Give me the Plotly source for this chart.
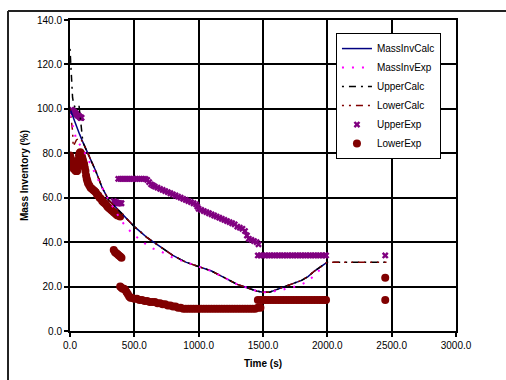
import plotly.graph_objects as go

# ---------------- data ----------------
calc_t = [0, 25, 50, 75, 100, 150, 200, 250, 300, 350, 400, 450, 500, 550, 600, 650, 700, 750, 800,
          850, 900, 950, 1000, 1050, 1100, 1150, 1200, 1250, 1300, 1350, 1400, 1450, 1500, 1550,
          1600, 1650, 1700, 1750, 1800, 1850, 1900, 1950, 2000]
calc_y = [100, 96, 92, 88.5, 85, 78.5, 72, 64.5, 59, 56, 53, 50, 47, 44.5, 42, 40, 38, 36, 34,
          32.5, 31, 30, 29, 28, 27, 25.5, 24, 22.5, 21, 20, 19, 18, 17.5, 17.5,
          18.5, 19.5, 20.7, 21.7, 22.8, 24.5, 27, 29, 31]

upper_t = [0, 5, 10, 15, 20, 30, 40, 55, 70, 80, 90, 100, 150, 200, 250, 300, 350, 400, 450, 500, 550,
           600, 650, 700, 750, 800, 850, 900, 950, 1000, 1050, 1100, 1150, 1200, 1250, 1300, 1350,
           1400, 1450, 1500, 1550, 1600, 1650, 1700, 1750, 1800, 1850, 1900, 1950, 2000, 2100, 2200,
           2300, 2400, 2460]
upper_y = [127, 122, 116, 110, 105, 102, 100.5, 101, 101.5, 96, 89, 85, 78.5, 72, 64.5, 59, 56, 53, 50, 47, 44.5,
           42, 40, 38, 36, 34, 32.5, 31, 30, 29, 28, 27, 25.5, 24, 22.5, 21, 20,
           19, 18, 17.5, 17.5, 18.5, 19.5, 20.7, 21.7, 22.8, 24.5, 27, 29, 31, 31, 31,
           31, 31, 31]

lower_t = [0, 10, 20, 25, 50, 75, 100, 150, 200, 250, 300, 350, 400, 450, 500, 550,
           600, 650, 700, 750, 800, 850, 900, 950, 1000, 1050, 1100, 1150, 1200, 1250, 1300, 1350,
           1400, 1450, 1500, 1550, 1600, 1650, 1700, 1750, 1800, 1850, 1900, 1950, 2000, 2100, 2200,
           2300, 2400, 2460]
lower_y = [100, 96, 90, 83, 86, 87, 85, 78.5, 72, 64.5, 59, 56, 53, 50, 47, 44.5,
           42, 40, 38, 36, 34, 32.5, 31, 30, 29, 28, 27, 25.5, 24, 22.5, 21, 20,
           19, 18, 17.5, 17.5, 18.5, 19.5, 20.7, 21.7, 22.8, 24.5, 27, 29, 31, 31, 31,
           31, 31, 31]

exp_t = [0, 50, 100, 150, 200, 250, 300, 350, 400, 450, 500, 550, 600, 650, 700, 750, 800, 850, 900,
         950, 1000, 1050, 1100, 1150, 1200, 1250, 1300, 1350, 1400, 1450, 1500, 1550, 1600, 1650,
         1700, 1750, 1800, 1850, 1900, 1950, 1980]
exp_y = [97, 86, 82, 76, 70, 64.5, 59, 54, 49.5, 46, 43, 41, 38.5, 37, 36, 34.5, 33, 32, 31,
         30, 29, 28, 27, 25.5, 24, 22.5, 21, 20, 19, 18, 17.5, 17.5, 18, 18.5,
         19.5, 20, 21, 22.5, 25, 28, 30]

uexp_t = [10, 15, 20, 25, 30, 35, 40, 45, 50, 55, 60, 65, 70, 75, 80, 85, 90,
          340, 350, 360, 370, 380, 390, 400,
          375, 390, 405, 420, 435, 450, 465, 480, 495, 510, 525, 540, 555, 570, 585,
          600, 615, 630, 645, 660, 680, 700, 720, 740, 760, 780, 800, 820, 840, 860, 880, 900,
          920, 940, 960, 980, 990, 1000, 1020, 1040, 1060, 1080, 1100, 1120, 1140, 1160, 1180,
          1200, 1220, 1240, 1260, 1280, 1300, 1320, 1340, 1360, 1375, 1390, 1410, 1430, 1450, 1465,
          1460, 1480, 1500, 1520, 1540, 1560, 1580, 1600, 1620, 1640, 1660, 1680, 1700, 1720, 1740,
          1760, 1780, 1800, 1820, 1840, 1860, 1880, 1900, 1920, 1940, 1960, 1980, 1990,
          2450]
uexp_y = [99.5, 99.5, 99, 99, 98.5, 98.5, 98, 98, 97.5, 97.5, 97, 97, 96.5, 96.5, 96, 96, 96,
          58.5, 58, 58, 57.5, 57.5, 57.5, 57.5,
          68.5, 68.5, 68.5, 68.5, 68.5, 68.5, 68.5, 68.5, 68.5, 68.5, 68.5, 68.5, 68.5, 68.5, 68.5,
          68, 67, 66, 65.5, 65, 64.5, 64, 63.5, 63, 62.5, 62, 61.5, 61, 60.5, 60, 59.5, 59,
          58.5, 58, 57.5, 57, 56, 55, 54.5, 54, 53.5, 53, 52.5, 52, 51.5, 51, 50.5,
          50, 49.5, 49, 48.5, 48, 47, 46.5, 46, 45, 43, 41.5, 41, 40.5, 40, 39,
          34, 34, 34, 34, 34, 34, 34, 34, 34, 34, 34, 34, 34, 34, 34,
          34, 34, 34, 34, 34, 34, 34, 34, 34, 34, 34, 34, 34,
          34]

lexp_t = [0, 5, 10, 15, 20, 25, 30, 35, 40, 45, 50, 55,
          60, 65, 70, 75, 80, 85, 90, 95, 100, 105, 110, 115, 120, 125, 130, 135, 140, 150, 160,
          170, 180, 190, 200, 210, 220, 230, 240, 250, 260, 270, 280, 290, 300, 310, 320, 330,
          340, 350, 360, 370, 380, 390,
          340, 350, 360, 370, 380, 390, 400,
          390, 400, 410, 420, 430, 440, 450, 460, 470, 480, 500, 520, 540, 560, 580, 600, 620,
          640, 660, 680, 700, 720, 740, 760, 780, 800, 820, 840, 860, 880,
          900, 920, 940, 960, 980, 1000, 1020, 1040, 1060, 1080, 1100, 1120, 1140, 1160, 1180,
          1200, 1220, 1240, 1260, 1280, 1300, 1320, 1340, 1360, 1380, 1400, 1420, 1440, 1460, 1480,
          1460, 1480, 1500, 1520, 1540, 1560, 1580, 1600, 1620, 1640, 1660, 1680, 1700, 1720,
          1740, 1760, 1780, 1800, 1820, 1840, 1860, 1880, 1900, 1920, 1940, 1960, 1980, 1990,
          2450, 2450]
lexp_y = [79, 78, 77, 76, 75, 74, 73, 73, 72.5, 72, 72, 72,
          74, 77, 79, 80, 80.5, 80, 79, 78, 77, 76, 75, 73.5, 72, 70, 68.5, 67.5, 66.5, 65.5, 64.5,
          64, 63.5, 63, 62.5, 61.5, 61, 60, 59.5, 58.5, 58, 57.5, 57, 56, 55.5, 55, 54.5, 54,
          53.5, 53, 52.5, 52, 52, 51.5,
          36.5, 35.5, 35, 34.5, 34, 33.5, 33,
          20, 19.5, 19, 19, 18.5, 17.5, 16.5, 15.5, 15, 15, 14.5, 14.5, 14, 14, 13.5, 13.5, 13,
          13, 13, 12.5, 12.5, 12, 12, 11.5, 11.5, 11, 11, 10.5, 10.5, 10,
          10, 10, 10, 10, 10, 10, 10, 10, 10, 10, 10, 10, 10, 10, 10,
          10, 10, 10, 10, 10, 10, 10, 10, 10, 10, 10, 10, 10, 10.5, 10.5,
          14, 14, 14, 14, 14, 14, 14, 14, 14, 14, 14, 14, 14, 14,
          14, 14, 14, 14, 14, 14, 14, 14, 14, 14, 14, 14, 14, 14,
          14, 24]

x_ticks = [0, 500, 1000, 1500, 2000, 2500, 3000]
y_ticks = [0, 20, 40, 60, 80, 100, 120, 140]

# ---------------- figure ----------------
FONT = "Liberation Sans, Arial, sans-serif"
fig = go.Figure()

fig.add_trace(go.Scatter(x=uexp_t, y=uexp_y, name="UpperExp", mode="markers", legendrank=5,
                         marker=dict(symbol="x", size=6, color="#800080", line=dict(width=0))))
fig.add_trace(go.Scatter(x=lexp_t, y=lexp_y, name="LowerExp", mode="markers", legendrank=6,
                         marker=dict(symbol="circle", size=8, color="#800000", line=dict(width=0))))
fig.add_trace(go.Scatter(x=calc_t, y=calc_y, name="MassInvCalc", mode="lines", legendrank=1,
                         line=dict(color="#000080", width=1.5)))
fig.add_trace(go.Scatter(x=upper_t, y=upper_y, name="UpperCalc", mode="lines", legendrank=3,
                         line=dict(color="#000000", width=1.5, dash="2px,5px,7px,5px")))
fig.add_trace(go.Scatter(x=lower_t, y=lower_y, name="LowerCalc", mode="lines", legendrank=4,
                         line=dict(color="#800000", width=1.5, dash="2px,5px,2px,5px,7px,5px")))
fig.add_trace(go.Scatter(x=exp_t, y=exp_y, name="MassInvExp", mode="lines", legendrank=2,
                         line=dict(color="#FF00FF", width=2, dash="2px,8px")))

fig.update_layout(
    width=506, height=380,
    margin=dict(l=70, r=50, t=20, b=47),
    paper_bgcolor="white", plot_bgcolor="white",
    font=dict(family=FONT, size=10, color="black"),
    showlegend=True,
    legend=dict(x=0.689, y=0.958, xanchor="left", yanchor="top",
                bgcolor="white", bordercolor="black", borderwidth=1,
                font=dict(family=FONT, size=10, color="black")),
    xaxis=dict(range=[0, 3000], tickvals=x_ticks, tickformat=".1f",
               showgrid=True, gridcolor="black", gridwidth=2,
               showline=True, linecolor="black", linewidth=2, mirror=True,
               ticks="outside", ticklen=4, tickcolor="black", tickwidth=2,
               zeroline=False,
               title=dict(text="<b>Time (s)</b>", font=dict(family=FONT, size=10), standoff=10)),
    yaxis=dict(range=[0, 140], tickvals=y_ticks, tickformat=".1f",
               showgrid=True, gridcolor="black", gridwidth=2,
               showline=True, linecolor="black", linewidth=2, mirror=True,
               ticks="outside", ticklen=4, tickcolor="black", tickwidth=2,
               zeroline=False,
               title=dict(text="<b>Mass Inventory (%)</b>", font=dict(family=FONT, size=10), standoff=6)),
    shapes=[
        dict(type="line", xref="paper", yref="paper", x0=-0.1606, x1=-0.1606, y0=-0.3, y1=1.0288,
             line=dict(color="#222222", width=2), layer="above"),
        dict(type="line", xref="paper", yref="paper", x0=-0.1606, x1=1.3, y0=1.0288, y1=1.0288,
             line=dict(color="#222222", width=2), layer="above"),
    ],
)

fig.write_html("out.html")
